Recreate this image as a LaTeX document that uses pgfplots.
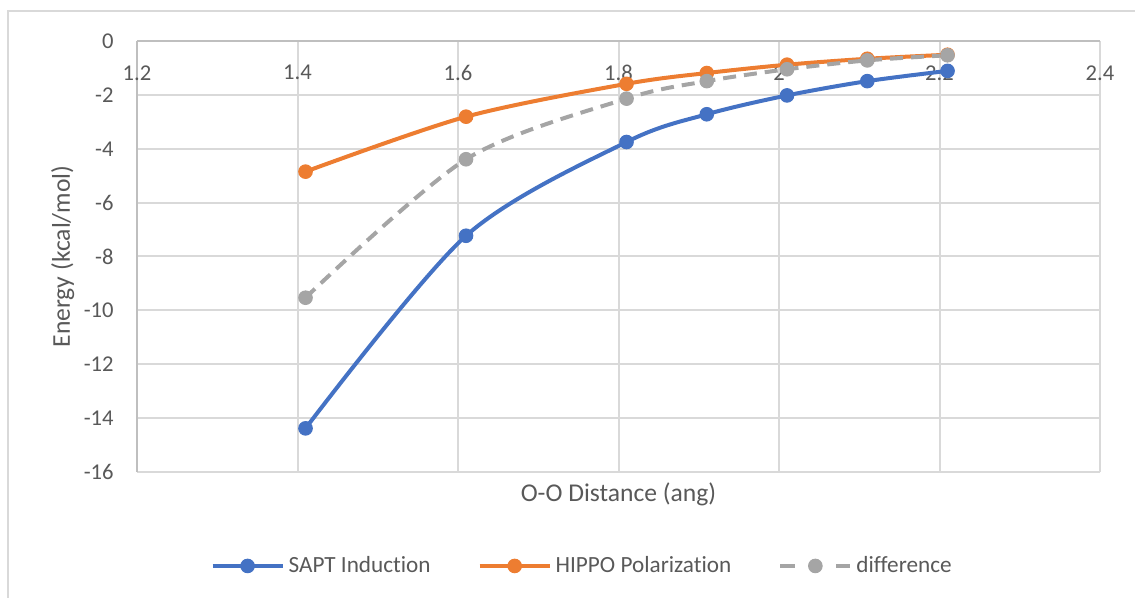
\documentclass[border=0pt]{standalone}
\usepackage{fontspec}
\setmainfont{Carlito}[Ligatures=NoCommon]
\usepackage{pgfplots}
\pgfplotsset{compat=1.18}
\definecolor{cblue}{HTML}{4472C4}
\definecolor{corange}{HTML}{ED7D31}
\definecolor{cgray}{HTML}{A5A5A5}
\definecolor{txt}{HTML}{595959}
\definecolor{gridc}{HTML}{D9D9D9}
\definecolor{axisc}{HTML}{BFBFBF}
\begin{document}
\begin{tikzpicture}
\useasboundingbox (0,0) rectangle (567.5pt,299pt);
\draw[gridc, line width=0.75pt] (4pt,0pt) -- (4pt,293.5pt) -- (567.5pt,293.5pt);
\begin{axis}[
  at={(68.5pt,63pt)}, anchor=south west,
  scale only axis, width=481.5pt, height=215.5pt,
  xmin=1.2, xmax=2.4, ymin=-16, ymax=0,
  xtick={1.2,1.4,1.6,1.8,2.0,2.2,2.4},
  ytick={-16,-14,-12,-10,-8,-6,-4,-2,0},
  axis x line*=top, axis y line*=left,
  axis line style={-, draw=axisc, line width=1pt},
  grid=major, major grid style={draw=gridc, line width=1pt},
  major tick length=0pt,
  tick label style={font=\fontsize{11.3}{13}\selectfont, text=txt, inner sep=0pt},
  /pgf/number format/assume math mode=true,
  xticklabel style={anchor=north, yshift=-12pt},
  yticklabel style={anchor=east, xshift=-11.5pt},
  xlabel={O-O Distance (ang)},
  ylabel={Energy (kcal/mol)},
  label style={font=\fontsize{12.8}{15}\selectfont, text=txt, inner sep=0pt},
  xlabel style={at={(axis description cs:0.5,-0.0673)}, anchor=base},
  ylabel style={at={(axis description cs:-0.0697,0.5)}, anchor=base, rotate=0},
  legend columns=3,
  legend cell align=left,
  legend style={at={(axis description cs:0.0760,-0.2180)}, anchor=west, draw=none, fill=none,
    inner sep=0pt, font=\fontsize{11.6}{14}\selectfont, text=txt,
    /tikz/every even column/.append style={column sep=21.5pt}},
  legend image code/.code={\draw[mark repeat=2,mark phase=2] plot coordinates {(0pt,0pt) (17.5pt,0pt) (35pt,0pt)};},
]
\addplot[cblue, line width=2pt, smooth, mark=*, mark size=3.4pt, mark options={solid, line width=0.5pt, fill=cblue}]
  coordinates {(1.41,-14.38) (1.61,-7.23) (1.81,-3.75) (1.91,-2.72) (2.01,-2.02) (2.11,-1.49) (2.21,-1.11)};
\addlegendentry{SAPT Induction}
\addplot[corange, line width=2pt, smooth, mark=*, mark size=3.4pt, mark options={solid, line width=0.5pt, fill=corange}]
  coordinates {(1.41,-4.85) (1.61,-2.81) (1.81,-1.59) (1.91,-1.19) (2.01,-0.88) (2.11,-0.66) (2.21,-0.51)};
\addlegendentry{HIPPO Polarization}
\addplot[cgray, line width=2pt, smooth, dash pattern=on 6.5pt off 4pt, mark=*, mark size=3.4pt, mark options={solid, line width=0.5pt, fill=cgray},
  legend image code/.code={\draw[mark repeat=2,mark phase=2, dash pattern=on 7pt off 21pt] plot coordinates {(0pt,0pt) (17.5pt,0pt) (35pt,0pt)};}]
  coordinates {(1.41,-9.53) (1.61,-4.39) (1.81,-2.14) (1.91,-1.49) (2.01,-1.05) (2.11,-0.72) (2.21,-0.53)};
\addlegendentry{difference}
\end{axis}
\end{tikzpicture}
\end{document}
